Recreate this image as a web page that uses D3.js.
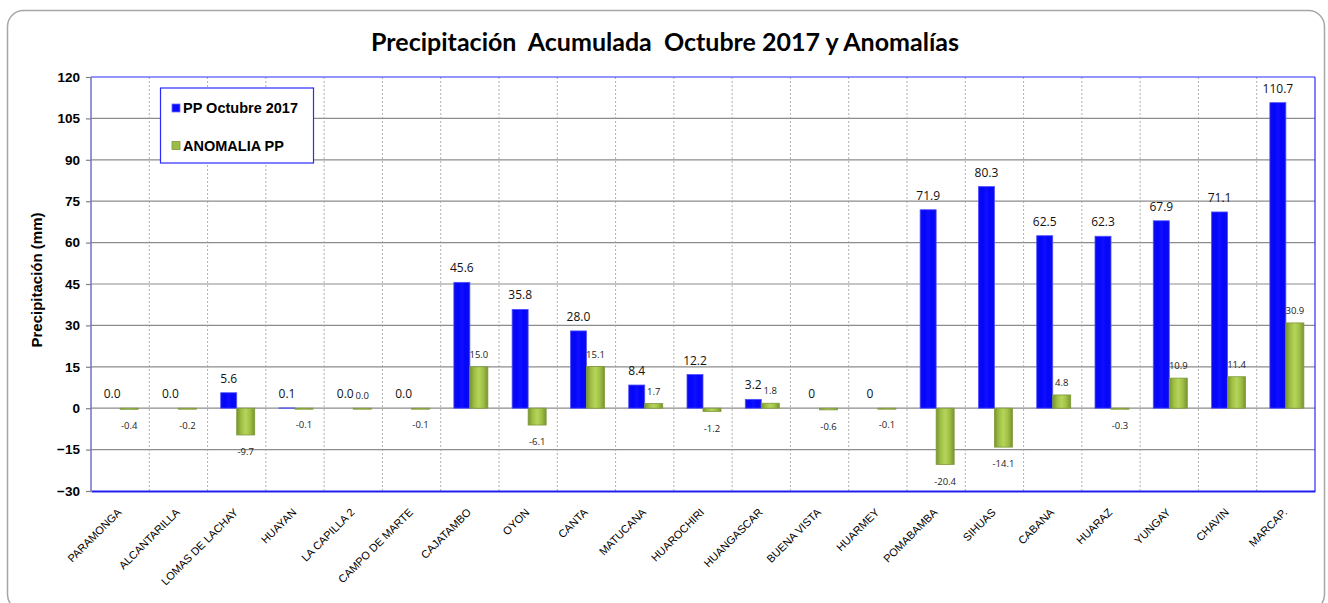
<!DOCTYPE html>
<html><head><meta charset="utf-8">
<script src="https://cdn.jsdelivr.net/npm/d3@7"></script>
<style>body{margin:0;background:#fff;} svg{display:block;}</style>
</head><body>
<svg id="chart" width="1328" height="603"></svg>
<script>
const categories = ["PARAMONGA","ALCANTARILLA","LOMAS DE LACHAY","HUAYAN","LA CAPILLA 2","CAMPO DE MARTE","CAJATAMBO","OYON","CANTA","MATUCANA","HUAROCHIRI","HUANGASCAR","BUENA VISTA","HUARMEY","POMABAMBA","SIHUAS","CABANA","HUARAZ","YUNGAY","CHAVIN","MARCAP."];
const ppValues = [0.0,0.0,5.6,0.1,0.0,0.0,45.6,35.8,28.0,8.4,12.2,3.2,0,0,71.9,80.3,62.5,62.3,67.9,71.1,110.7];
const ppLabels = ["0.0","0.0","5.6","0.1","0.0","0.0","45.6","35.8","28.0","8.4","12.2","3.2","0","0","71.9","80.3","62.5","62.3","67.9","71.1","110.7"];
const anomValues = [-0.4,-0.2,-9.7,-0.1,0.0,-0.1,15.0,-6.1,15.1,1.7,-1.2,1.8,-0.6,-0.1,-20.4,-14.1,4.8,-0.3,10.9,11.4,30.9];
const yTicks = [-30,-15,0,15,30,45,60,75,90,105,120];
const seriesNames = ["PP Octubre 2017","ANOMALIA PP"];
const titleText = "Precipitación\u00A0 Acumulada\u00A0 Octubre 2017 y Anomalías";
const yTitle = "Precipitación (mm)";

const svg = d3.select("#chart");
const M = {left:91, right:1315, top:77, bottom:491};

// frame
svg.append("rect").attr("x",7.5).attr("y",10.5).attr("width",1317).attr("height",600)
  .attr("rx",16).attr("fill","#fff").attr("stroke","#a6a6a6").attr("stroke-width",1.5);

const defs = svg.append("defs");
const gg = defs.append("linearGradient").attr("id","gGreen").attr("x1","0").attr("x2","1").attr("y1","0").attr("y2","0");
[["0%","#789430"],["25%","#9fbf45"],["50%","#b6d45a"],["75%","#9fbf45"],["100%","#789430"]].forEach(s=>gg.append("stop").attr("offset",s[0]).attr("stop-color",s[1]));
const gb = defs.append("linearGradient").attr("id","gBlue").attr("x1","0").attr("x2","1").attr("y1","0").attr("y2","0");
[["0%","#0c0ce8"],["30%","#0505ff"],["50%","#1010ff"],["70%","#0505ff"],["100%","#0c0ce8"]].forEach(s=>gb.append("stop").attr("offset",s[0]).attr("stop-color",s[1]));

const x = d3.scaleBand().domain(categories).range([M.left,M.right]).paddingInner(0).paddingOuter(0);
const y = d3.scaleLinear().domain([-30,120]).range([M.bottom,M.top]);

// horizontal grid
const ga = svg.append("g").attr("transform",`translate(${M.left},0)`)
  .call(d3.axisLeft(y).tickValues(yTicks).tickSize(5).tickPadding(6).tickFormat(d3.format("d")));
ga.select(".domain").remove();
ga.selectAll(".tick line").attr("stroke","#808080").attr("stroke-width",1.2);
ga.selectAll(".tick text").attr("font-family","Arial, 'Liberation Sans'").attr("font-weight","bold").attr("font-size",13.5).attr("fill","#000");
svg.append("g").selectAll("line").data(yTicks.filter(t=>t>-30 && t<120)).join("line")
  .attr("x1",M.left).attr("x2",M.right).attr("y1",d=>y(d)).attr("y2",d=>y(d))
  .attr("stroke","#8c8c8c").attr("stroke-width",1.2);

// vertical dotted grid
svg.append("g").selectAll("line").data(categories.slice(1)).join("line")
  .attr("x1",d=>x(d)).attr("x2",d=>x(d)).attr("y1",M.top).attr("y2",M.bottom)
  .attr("stroke","#9a9a9a").attr("stroke-width",0.8).attr("stroke-dasharray","2,2");

const bw = x.bandwidth();
// bars
svg.append("g").selectAll("rect").data(categories).join("rect")
  .attr("x",d=>x(d)+bw/2-16).attr("width",16)
  .attr("y",(d,i)=>y(Math.max(ppValues[i],0)))
  .attr("height",(d,i)=>Math.abs(y(ppValues[i])-y(0)))
  .attr("fill","url(#gBlue)").attr("stroke","#5050ff").attr("stroke-width",0.8);
svg.append("g").selectAll("rect").data(categories).join("rect")
  .attr("x",d=>x(d)+bw/2).attr("width",18)
  .attr("y",(d,i)=>y(Math.max(anomValues[i],0)))
  .attr("height",(d,i)=>Math.max(1,Math.abs(y(anomValues[i])-y(0))))
  .attr("fill","url(#gGreen)").attr("stroke","#7f9a3a").attr("stroke-width",0.8);

// bar labels
svg.append("g").selectAll("text").data(categories).join("text")
  .attr("x",d=>x(d)+bw/2-8).attr("y",(d,i)=>y(Math.max(ppValues[i],0))-10)
  .attr("text-anchor","middle").attr("font-family","'Open Sans', sans-serif").attr("font-size",12).attr("fill","#111")
  .text((d,i)=>ppLabels[i]);
svg.append("g").selectAll("text").data(categories).join("text")
  .attr("x",d=>x(d)+bw/2+9)
  .attr("y",(d,i)=>anomValues[i]>=0 ? y(anomValues[i])-9 : y(anomValues[i])+20)
  .attr("text-anchor","middle").attr("font-family","'Open Sans', sans-serif").attr("font-size",9.5).attr("fill","#222")
  .text((d,i)=>anomValues[i].toFixed(1));

// plot border
svg.append("line").attr("x1",M.left).attr("x2",M.right).attr("y1",M.top).attr("y2",M.top).attr("stroke","#2a2aff").attr("stroke-width",1.2);
svg.append("line").attr("x1",M.right).attr("x2",M.right).attr("y1",M.top).attr("y2",M.bottom).attr("stroke","#2a2aff").attr("stroke-width",1.2);
svg.append("line").attr("x1",M.left).attr("x2",M.left).attr("y1",M.top).attr("y2",M.bottom).attr("stroke","#7272c8").attr("stroke-width",1.5);

// x axis
const gx = svg.append("g").attr("transform",`translate(0,${M.bottom})`).call(d3.axisBottom(x).tickSize(0).tickPadding(0));
gx.select(".domain").attr("stroke","#2020ee").attr("stroke-width",2);
gx.selectAll(".tick text").attr("font-family","Arial, 'Liberation Sans'").attr("font-size",11).attr("fill","#000")
  .attr("text-anchor","end").attr("dy",0).attr("transform","translate(2,22) rotate(-45)");

// title
svg.append("text").attr("x",665).attr("y",51).attr("text-anchor","middle")
  .attr("font-family","Lato, sans-serif").attr("font-weight","bold").attr("font-size",25).attr("fill","#000").text(titleText);
// y title
svg.append("text").attr("transform","translate(42,280) rotate(-90)").attr("text-anchor","middle")
  .attr("font-family","Arial, 'Liberation Sans'").attr("font-weight","bold").attr("font-size",15).text(yTitle);

// legend
const lg = svg.append("g");
lg.append("rect").attr("x",160.5).attr("y",88).attr("width",153).attr("height",75).attr("fill","#fff").attr("stroke","#2a2aff").attr("stroke-width",1.2);
const legColors = ["#0a0aff","#9cbc48"];
seriesNames.forEach((n,i)=>{
  const cy = 108 + i*37.5;
  lg.append("rect").attr("x",172).attr("y",cy-4).attr("width",8).attr("height",8).attr("fill",legColors[i]).attr("stroke",i?"#7f9a3a":"#6a6aff").attr("stroke-width",0.8);
  lg.append("text").attr("x",183).attr("y",cy+5).attr("font-family","Arial, 'Liberation Sans'").attr("font-weight","bold").attr("font-size",14.5).text(n);
});
</script>
</body></html>
